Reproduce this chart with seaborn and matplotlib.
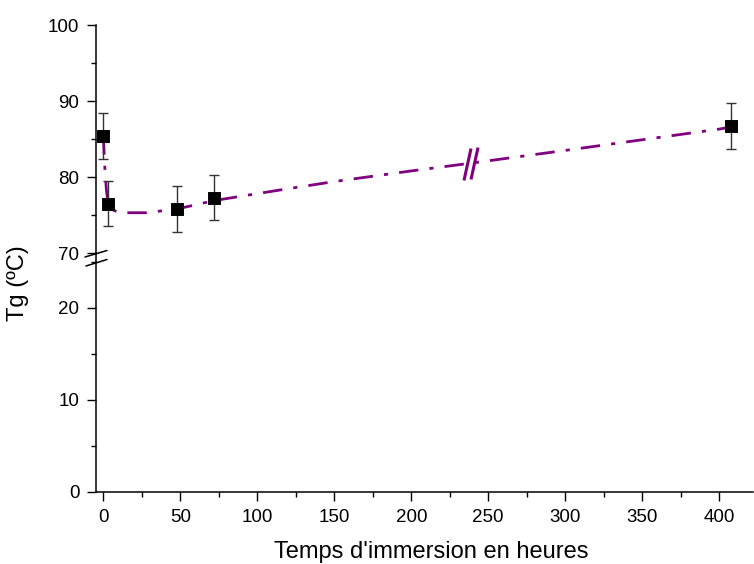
import numpy as np
import pandas as pd
import seaborn as sns
import matplotlib.pyplot as plt
from matplotlib.lines import Line2D
from matplotlib.ticker import MultipleLocator

# points mesurés
temps = [0, 3, 48, 72, 408]
tg = [85.4, 76.5, 75.8, 77.3, 86.7]
err = [3.0, 3.0, 3.0, 3.0, 3.0]

# courbe d'ajustement
fit_x = [0, 0.5, 1, 2, 3, 5, 9, 15, 28, 48, 72, 115, 150, 200, 238, 300, 350, 400, 408]
fit_y = [85.5, 83.0, 81.0, 78.2, 76.6, 75.8, 75.4, 75.3, 75.3, 75.8, 76.9, 78.3, 79.4, 80.8, 81.8, 83.5, 84.9, 86.3, 86.6]

x_break = [236, 241]

sns.set_style("ticks")
plt.rcParams["font.family"] = ["Liberation Sans", "DejaVu Sans"]
plt.rcParams.update({"text.color": "black", "axes.labelcolor": "black",
                     "xtick.color": "black", "ytick.color": "black",
                     "axes.edgecolor": "black"})

fig = plt.figure(figsize=(7.54, 5.64), dpi=100)
W, H = 754, 564

def frac(x0, y0, x1, y1):
    return [x0 / W, 1 - y1 / H, (x1 - x0) / W, (y1 - y0) / H]

ax_top = fig.add_axes(frac(96, 25, 753, 253))
ax_bot = fig.add_axes(frac(96, 262, 753, 492), sharex=ax_top)

purple = "#800080"
df_fit = pd.DataFrame({"x": fit_x, "y": fit_y})
df_pts = pd.DataFrame({"x": temps, "y": tg})

sns.lineplot(data=df_fit, x="x", y="y", ax=ax_top, color=purple, lw=2,
             sort=False, estimator=None, zorder=2)
ax_top.lines[-1].set_dashes([7, 4, 1.5, 4])
ax_top.errorbar(temps, tg, yerr=err, fmt="none", ecolor="#333333",
                elinewidth=1, capsize=3.8, capthick=1, zorder=3, clip_on=False)
sns.scatterplot(data=df_pts, x="x", y="y", ax=ax_top, marker="s", s=70,
                color="black", edgecolor="black", zorder=4, clip_on=False)

# marque de coupure sur la courbe
yb = np.interp(x_break, fit_x, fit_y)
ax_top.plot(x_break, yb, ls="none", marker=[(-0.22, -1), (0.22, 1)],
            markersize=23, mec=purple, mew=2.2, zorder=5)

ax_top.set_xlim(-4.8, 422)
ax_top.set_ylim(70, 100)
ax_bot.set_ylim(0, 25)

for a in (ax_top, ax_bot):
    a.set_xlabel("")
    a.set_ylabel("")
    a.spines["right"].set_visible(False)
    a.spines["top"].set_visible(False)
    for s in a.spines.values():
        s.set_linewidth(1.1)
    a.tick_params(which="major", direction="out", length=6.5, width=1,
                  labelsize=13.5, pad=5.5)
    a.tick_params(which="minor", direction="out", length=3.6, width=1)
    a.patch.set_alpha(0)

ax_top.spines["bottom"].set_visible(False)
ax_top.tick_params(axis="x", which="both", bottom=False, labelbottom=False)
ax_top.yaxis.set_major_locator(MultipleLocator(10))
ax_top.yaxis.set_minor_locator(MultipleLocator(5))
ax_bot.yaxis.set_major_locator(MultipleLocator(10))
ax_bot.yaxis.set_minor_locator(MultipleLocator(5))
ax_bot.xaxis.set_major_locator(MultipleLocator(50))
ax_bot.xaxis.set_minor_locator(MultipleLocator(25))

# trait de l'axe entre les deux parties et marques de coupure
def px_line(xs, ys, lw=1.1):
    fig.add_artist(Line2D([x / W for x in xs], [1 - y / H for y in ys],
                          color="black", lw=lw, transform=fig.transFigure))

px_line([96, 96], [253, 262])
px_line([85, 107], [257, 250.5])
px_line([86, 107], [266, 259.5])

fig.text(18 / W, 1 - 283 / H, "Tg (ºC)", rotation=90, ha="center", va="center", fontsize=17)
fig.text(431 / W, 1 - 552 / H, "Temps d'immersion en heures", ha="center", va="center", fontsize=17)

fig.savefig("out.png", dpi=100)
